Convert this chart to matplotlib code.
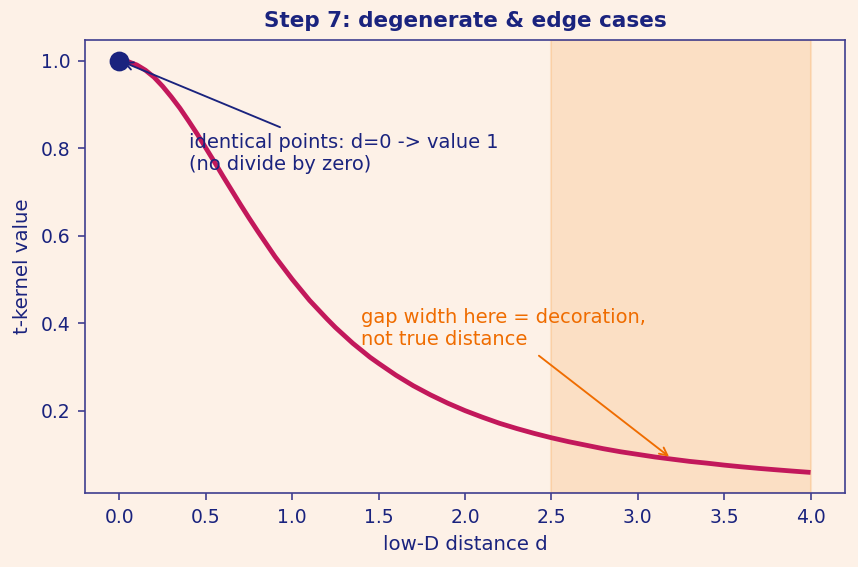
import matplotlib
matplotlib.use("Agg")
import matplotlib.pyplot as plt

# t-kernel values
dist = [0.0, 0.05, 0.1, 0.15, 0.2, 0.25, 0.3, 0.35, 0.4, 0.45, 0.5, 0.55, 0.6, 0.65, 0.7,
        0.75, 0.8, 0.85, 0.9, 0.95, 1.0, 1.05, 1.1, 1.15, 1.2, 1.25, 1.3, 1.35, 1.4, 1.45, 1.5,
        1.6, 1.7, 1.8, 1.9, 2.0, 2.1, 2.2, 2.3, 2.4, 2.5, 2.6, 2.7, 2.8, 2.9, 3.0,
        3.1, 3.2, 3.3, 3.4, 3.5, 3.6, 3.7, 3.8, 3.9, 4.0]
kernel = [1.000, 0.9975, 0.990, 0.978, 0.962, 0.941, 0.917, 0.891, 0.862, 0.832, 0.800, 0.768,
          0.735, 0.703, 0.671, 0.640, 0.610, 0.581, 0.552, 0.526, 0.500, 0.476, 0.452, 0.431,
          0.410, 0.390, 0.372, 0.354, 0.338, 0.322, 0.308,
          0.281, 0.257, 0.236, 0.217, 0.200, 0.185, 0.171, 0.159, 0.148, 0.138, 0.129, 0.121,
          0.113, 0.106, 0.100, 0.094, 0.089, 0.084, 0.080, 0.0755, 0.0716, 0.068, 0.0648,
          0.0617, 0.0588]
gap_span = (2.5, 4.0)
zero_point = (0.0, 1.0)
gap_target = (3.2, 0.089)

BG = "#fdf1e7"
NAVY = "#1a237e"
ORANGE = "#ef6c00"
CURVE = "#c2185b"

fig, ax = plt.subplots(figsize=(5.72, 3.78), dpi=150)
fig.patch.set_facecolor(BG)
ax.set_facecolor(BG)

ax.axvspan(*gap_span, color="#f57c00", alpha=0.15)
ax.plot(dist, kernel, color=CURVE, lw=2.3, zorder=3, solid_capstyle="butt")
ax.plot(*zero_point, "o", color=NAVY, ms=8.5, zorder=4)

ax.annotate("identical points: d=0 -> value 1\n(no divide by zero)", xy=zero_point, xytext=(0.4, 0.75),
            color=NAVY, fontsize=9.3, arrowprops=dict(arrowstyle="->", color=NAVY, lw=0.9))
ax.annotate("gap width here = decoration,\nnot true distance", xy=gap_target, xytext=(1.4, 0.35),
            color=ORANGE, fontsize=9.3, arrowprops=dict(arrowstyle="->", color=ORANGE, lw=0.9))

ax.set_xlabel("low-D distance d", color=NAVY, fontsize=9.5)
ax.set_ylabel("t-kernel value", color=NAVY, fontsize=9.5)
ax.set_title("Step 7: degenerate & edge cases", color=NAVY, fontsize=10.3, fontweight="bold")
ax.tick_params(colors="#3f3d8f", labelcolor=NAVY, labelsize=9)
for s in ax.spines.values():
    s.set_color("#3f3d8f")

fig.subplots_adjust(left=0.099, right=0.985, top=0.9295, bottom=0.1305)
fig.savefig("out.png", dpi=150, facecolor=BG)
